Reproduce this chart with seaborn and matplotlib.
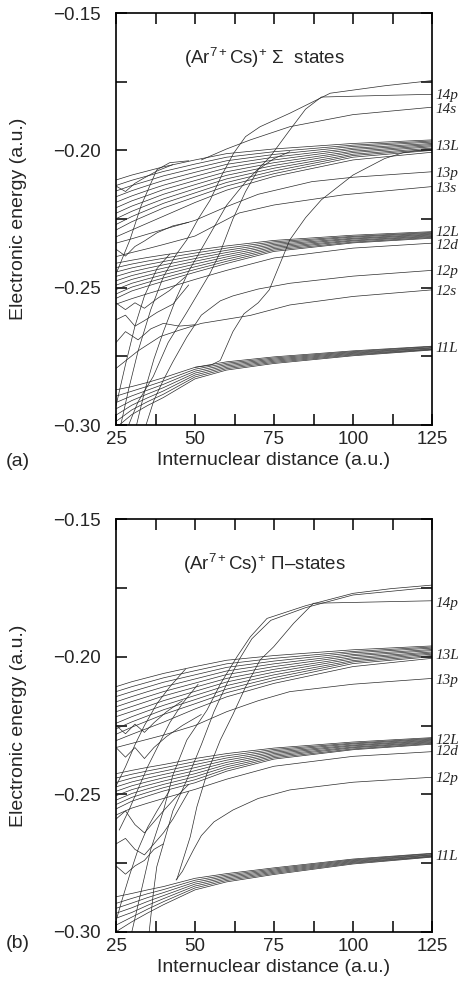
import matplotlib
matplotlib.use("Agg")
import matplotlib.pyplot as plt
import matplotlib.transforms as mtransforms
from matplotlib.ticker import MultipleLocator, FuncFormatter
import numpy as np
import pandas as pd
import seaborn as sns

# ---------------- data ----------------
R_GRID = [25, 30, 35, 40, 50, 60, 75, 100, 125]

# ---- panel (a): Sigma states ----
A_11L = [
    [-0.2872, -0.2860, -0.2845, -0.2828, -0.2790, -0.2770, -0.2752, -0.2730, -0.2713],
    [-0.2895, -0.2877, -0.2859, -0.2840, -0.2797, -0.2775, -0.2756, -0.2733, -0.2715],
    [-0.2918, -0.2894, -0.2873, -0.2852, -0.2804, -0.2780, -0.2760, -0.2736, -0.2718],
    [-0.2941, -0.2911, -0.2887, -0.2864, -0.2811, -0.2785, -0.2764, -0.2739, -0.2720],
    [-0.2964, -0.2928, -0.2901, -0.2876, -0.2818, -0.2790, -0.2768, -0.2742, -0.2723],
    [-0.2987, -0.2945, -0.2915, -0.2888, -0.2825, -0.2795, -0.2772, -0.2745, -0.2725],
    [-0.3010, -0.2962, -0.2929, -0.2900, -0.2832, -0.2800, -0.2776, -0.2748, -0.2727],
]
A_12L = [
    [-0.2411, -0.2400, -0.2390, -0.2381, -0.2364, -0.2348, -0.2328, -0.2309, -0.2296],
    [-0.2427, -0.2414, -0.2403, -0.2393, -0.2374, -0.2356, -0.2333, -0.2313, -0.2299],
    [-0.2443, -0.2428, -0.2416, -0.2405, -0.2384, -0.2364, -0.2338, -0.2316, -0.2302],
    [-0.2459, -0.2442, -0.2429, -0.2417, -0.2394, -0.2372, -0.2343, -0.2320, -0.2305],
    [-0.2475, -0.2456, -0.2442, -0.2429, -0.2404, -0.2380, -0.2348, -0.2323, -0.2308],
    [-0.2491, -0.2470, -0.2455, -0.2441, -0.2414, -0.2388, -0.2353, -0.2327, -0.2311],
    [-0.2507, -0.2484, -0.2468, -0.2453, -0.2424, -0.2396, -0.2358, -0.2330, -0.2314],
    [-0.2523, -0.2498, -0.2481, -0.2465, -0.2434, -0.2404, -0.2363, -0.2334, -0.2317],
    [-0.2539, -0.2512, -0.2494, -0.2477, -0.2444, -0.2412, -0.2368, -0.2337, -0.2320],
]
A_12D = [-0.2560, -0.2540, -0.2522, -0.2505, -0.2470, -0.2437, -0.2392, -0.2356, -0.2338]
A_13L = [
    [-0.2108, -0.2090, -0.2075, -0.2060, -0.2035, -0.2012, -0.1995, -0.1975, -0.1962],
    [-0.2128, -0.2109, -0.2093, -0.2077, -0.2050, -0.2025, -0.2005, -0.1981, -0.1966],
    [-0.2148, -0.2128, -0.2111, -0.2093, -0.2065, -0.2038, -0.2015, -0.1986, -0.1970],
    [-0.2169, -0.2147, -0.2128, -0.2110, -0.2080, -0.2051, -0.2025, -0.1992, -0.1975],
    [-0.2189, -0.2166, -0.2146, -0.2127, -0.2095, -0.2064, -0.2035, -0.1997, -0.1979],
    [-0.2209, -0.2184, -0.2164, -0.2143, -0.2110, -0.2078, -0.2045, -0.2003, -0.1983],
    [-0.2229, -0.2203, -0.2182, -0.2160, -0.2125, -0.2091, -0.2055, -0.2008, -0.1987],
    [-0.2249, -0.2222, -0.2199, -0.2177, -0.2140, -0.2104, -0.2065, -0.2014, -0.1992],
    [-0.2270, -0.2241, -0.2217, -0.2193, -0.2155, -0.2117, -0.2075, -0.2019, -0.1996],
    [-0.2290, -0.2260, -0.2235, -0.2210, -0.2170, -0.2130, -0.2085, -0.2025, -0.2000],
]
A_13D = [-0.2315, -0.2290, -0.2265, -0.2240, -0.2190, -0.2145, -0.2095, -0.2035, -0.2007]

# curves sampled at their own distances: (R list, E list)
A_13P_R = [25, 30, 35, 40, 50, 60, 70, 87, 100, 125]
A_13P_E = [-0.2338, -0.2322, -0.2305, -0.2288, -0.2255, -0.2205, -0.2160, -0.2114, -0.2098, -0.2078]
A_13S_R = [25, 30, 35, 40, 50, 58, 64, 75, 97, 125]
A_13S_E = [-0.2387, -0.2372, -0.2358, -0.2343, -0.2312, -0.2264, -0.2228, -0.2199, -0.2162, -0.2132]
A_12P_R = [34.5, 37, 40, 43, 47.4, 52, 58, 62, 70, 80, 100, 125]
A_12P_E = [-0.3000, -0.2910, -0.2836, -0.2770, -0.2680, -0.2600, -0.2548, -0.2530, -0.2505, -0.2484, -0.2458, -0.2437]
A_12S_R = [25, 32, 39, 45, 52, 60, 67.5, 80, 100, 125]
A_12S_E = [-0.2794, -0.2730, -0.2678, -0.2655, -0.2630, -0.2615, -0.2601, -0.2563, -0.2532, -0.2508]
A_14S_R = [52, 56, 60, 67.5, 80, 100, 125]
A_14S_E = [-0.2035, -0.2015, -0.1995, -0.1962, -0.1914, -0.1870, -0.1843]
A_TOP_R = [26.5, 29, 32, 36, 40, 44, 47.4, 51, 54.8, 58.5, 62.2, 66, 70.6, 80, 92.8, 110, 125]
A_TOP_E = [-0.3000, -0.2870, -0.2730, -0.2580, -0.2460, -0.2380, -0.2326, -0.2250, -0.2181, -0.2090,
           -0.2011, -0.1950, -0.1914, -0.1865, -0.1792, -0.1765, -0.1746]
A_14P_R = [31.5, 34, 37, 40, 44, 48, 52, 56, 60, 66, 73.8, 80, 85, 90, 110, 125]
A_14P_E = [-0.3000, -0.2880, -0.2760, -0.2660, -0.2540, -0.2440, -0.2360, -0.2280, -0.2200, -0.2115,
           -0.2023, -0.1926, -0.1850, -0.1806, -0.1800, -0.1796]
A_D1_R = [50, 55, 58, 62, 65.5, 70, 73.5, 77, 80, 85, 90, 100, 110, 116, 125]
A_D1_E = [-0.2790, -0.2782, -0.2765, -0.2660, -0.2595, -0.2555, -0.2508, -0.2410, -0.2326, -0.2245,
          -0.2180, -0.2090, -0.2030, -0.2008, -0.1995]
A_D3_R = [29, 32, 36.8, 41.5, 47.4, 54.8, 58, 62, 66, 70, 75, 80]
A_D3_E = [-0.3000, -0.2915, -0.2823, -0.2700, -0.2590, -0.2447, -0.2370, -0.2250, -0.2150, -0.2070, -0.2030, -0.2005]
A_D4_R = [25, 29.4, 33, 37.9, 42, 48]
A_D4_E = [-0.2450, -0.2326, -0.2200, -0.2071, -0.2045, -0.2038]
A_D5_R = [25, 28, 31, 34, 38, 42]
A_D5_E = [-0.2930, -0.2780, -0.2640, -0.2530, -0.2430, -0.2378]
A_W1_R = [25, 28, 31, 34, 38, 42, 47]
A_W1_E = [-0.2556, -0.2580, -0.2555, -0.2575, -0.2540, -0.2510, -0.2460]
A_W2_R = [25, 28, 31, 34, 38, 43, 48]
A_W2_E = [-0.2617, -0.2600, -0.2640, -0.2620, -0.2590, -0.2560, -0.2490]
A_W3_R = [25, 28, 32, 36, 40, 45, 50]
A_W3_E = [-0.2700, -0.2660, -0.2690, -0.2650, -0.2630, -0.2640, -0.2635]
A_W4_R = [25, 28, 31, 34, 38, 43, 48]
A_W4_E = [-0.2360, -0.2385, -0.2350, -0.2330, -0.2300, -0.2275, -0.2262]
A_W5_R = [25, 28, 31, 34, 38, 43]
A_W5_E = [-0.2130, -0.2150, -0.2120, -0.2100, -0.2075, -0.2052]

A_LABELS = ["14p", "14s", "13L", "13p", "13s", "12L", "12d", "12p", "12s", "11L"]
A_LABEL_E = [-0.1800, -0.1850, -0.1985, -0.2085, -0.2140, -0.2300, -0.2345, -0.2440, -0.2515, -0.2720]

# ---- panel (b): Pi states ----
B_11L = [
    [-0.2872, -0.2860, -0.2847, -0.2835, -0.2805, -0.2788, -0.2767, -0.2735, -0.2714],
    [-0.2896, -0.2878, -0.2861, -0.2846, -0.2812, -0.2793, -0.2771, -0.2738, -0.2716],
    [-0.2914, -0.2895, -0.2875, -0.2857, -0.2819, -0.2798, -0.2775, -0.2741, -0.2719],
    [-0.2932, -0.2912, -0.2889, -0.2868, -0.2826, -0.2803, -0.2779, -0.2744, -0.2721],
    [-0.2950, -0.2929, -0.2903, -0.2879, -0.2833, -0.2808, -0.2783, -0.2747, -0.2724],
    [-0.2975, -0.2946, -0.2917, -0.2890, -0.2840, -0.2813, -0.2787, -0.2750, -0.2726],
    [-0.2999, -0.2963, -0.2931, -0.2901, -0.2847, -0.2818, -0.2791, -0.2753, -0.2728],
]
B_12L = [
    [-0.2425, -0.2413, -0.2402, -0.2392, -0.2370, -0.2352, -0.2332, -0.2310, -0.2294],
    [-0.2441, -0.2427, -0.2415, -0.2404, -0.2381, -0.2360, -0.2337, -0.2314, -0.2297],
    [-0.2457, -0.2441, -0.2428, -0.2416, -0.2392, -0.2368, -0.2342, -0.2317, -0.2300],
    [-0.2473, -0.2455, -0.2441, -0.2428, -0.2403, -0.2376, -0.2347, -0.2321, -0.2303],
    [-0.2489, -0.2469, -0.2454, -0.2440, -0.2414, -0.2384, -0.2352, -0.2324, -0.2306],
    [-0.2505, -0.2483, -0.2467, -0.2452, -0.2425, -0.2392, -0.2357, -0.2328, -0.2309],
    [-0.2521, -0.2497, -0.2480, -0.2464, -0.2436, -0.2400, -0.2362, -0.2331, -0.2312],
    [-0.2537, -0.2511, -0.2493, -0.2476, -0.2447, -0.2408, -0.2367, -0.2335, -0.2315],
    [-0.2553, -0.2525, -0.2506, -0.2488, -0.2458, -0.2416, -0.2372, -0.2338, -0.2318],
]
B_12D = [-0.2575, -0.2550, -0.2532, -0.2515, -0.2482, -0.2445, -0.2398, -0.2362, -0.2345]
B_13L = [
    [-0.2109, -0.2091, -0.2076, -0.2061, -0.2036, -0.2013, -0.1996, -0.1975, -0.1961],
    [-0.2127, -0.2109, -0.2093, -0.2077, -0.2051, -0.2026, -0.2006, -0.1981, -0.1965],
    [-0.2145, -0.2127, -0.2110, -0.2093, -0.2066, -0.2039, -0.2016, -0.1986, -0.1969],
    [-0.2164, -0.2145, -0.2127, -0.2110, -0.2081, -0.2052, -0.2026, -0.1992, -0.1974],
    [-0.2182, -0.2163, -0.2145, -0.2127, -0.2096, -0.2065, -0.2036, -0.1997, -0.1978],
    [-0.2200, -0.2181, -0.2162, -0.2143, -0.2111, -0.2079, -0.2046, -0.2003, -0.1983],
    [-0.2218, -0.2199, -0.2180, -0.2160, -0.2126, -0.2092, -0.2056, -0.2008, -0.1987],
    [-0.2242, -0.2218, -0.2197, -0.2177, -0.2141, -0.2105, -0.2066, -0.2014, -0.1991],
    [-0.2262, -0.2237, -0.2215, -0.2193, -0.2156, -0.2118, -0.2076, -0.2019, -0.1996],
    [-0.2282, -0.2256, -0.2233, -0.2210, -0.2171, -0.2131, -0.2086, -0.2025, -0.2000],
]
B_13D = [-0.2305, -0.2282, -0.2260, -0.2238, -0.2190, -0.2146, -0.2097, -0.2036, -0.2006]

B_13P_R = [25, 30, 35, 40, 50, 60, 70, 80, 100, 125]
B_13P_E = [-0.2330, -0.2315, -0.2300, -0.2285, -0.2250, -0.2200, -0.2160, -0.2127, -0.2100, -0.2079]
B_14P_R = [44.2, 48.5, 50.6, 53.8, 58, 62, 66, 70.6, 74.9, 81.2, 87.5, 100, 125]
B_14P_E = [-0.2811, -0.2654, -0.2545, -0.2424, -0.2303, -0.2210, -0.2110, -0.2012, -0.1964, -0.1879,
           -0.1806, -0.1803, -0.1797]
B_T1_R = [30, 33, 36, 40, 43, 47.4, 53.8, 58, 63.3, 67.5, 72.8, 85, 100, 112, 125]
B_T1_E = [-0.3000, -0.2850, -0.2700, -0.2560, -0.2430, -0.2303, -0.2194, -0.2100, -0.2000, -0.1928,
          -0.1861, -0.1815, -0.1770, -0.1753, -0.1740]
B_T2_R = [35.5, 36.8, 37.9, 40, 43, 47.4, 52, 56, 60, 64, 68, 74, 85, 100, 125]
B_T2_E = [-0.3000, -0.2860, -0.2763, -0.2680, -0.2560, -0.2448, -0.2320, -0.2200, -0.2100, -0.2010,
          -0.1935, -0.1868, -0.1822, -0.1776, -0.1748]
B_12P_R = [44, 46, 49.5, 52, 56, 62, 70, 80, 100, 125]
B_12P_E = [-0.2811, -0.2780, -0.2702, -0.2650, -0.2600, -0.2557, -0.2515, -0.2484, -0.2456, -0.2438]
B_D4_R = [25, 28, 31, 34, 38, 42, 47]
B_D4_E = [-0.2470, -0.2400, -0.2320, -0.2250, -0.2170, -0.2110, -0.2045]
B_D5_R = [26, 29, 32, 35, 38.5, 42, 46, 51]
B_D5_E = [-0.2630, -0.2560, -0.2480, -0.2400, -0.2320, -0.2240, -0.2170, -0.2100]
B_D6_R = [25, 27, 29.4, 32, 35, 38, 42]
B_D6_E = [-0.2960, -0.2880, -0.2790, -0.2700, -0.2620, -0.2560, -0.2485]
B_W1_R = [25, 28, 31, 34, 37, 41, 46]
B_W1_E = [-0.2250, -0.2280, -0.2245, -0.2275, -0.2240, -0.2200, -0.2160]
B_W2_R = [25, 28, 31, 34, 37, 41, 46, 52]
B_W2_E = [-0.2330, -0.2365, -0.2330, -0.2370, -0.2330, -0.2290, -0.2250, -0.2210]
B_W3_R = [25, 28, 31, 34, 37, 40, 44, 48]
B_W3_E = [-0.2590, -0.2560, -0.2610, -0.2640, -0.2600, -0.2560, -0.2510, -0.2464]
B_W4_R = [25, 28, 31, 34, 37, 40, 43, 48]
B_W4_E = [-0.2680, -0.2660, -0.2700, -0.2720, -0.2680, -0.2640, -0.2590, -0.2490]
B_W5_R = [25, 28, 31, 34, 37, 40]
B_W5_E = [-0.2760, -0.2790, -0.2760, -0.2740, -0.2700, -0.2680]

B_LABELS = ["14p", "13L", "13p", "12L", "12d", "12p", "11L"]
B_LABEL_E = [-0.1806, -0.1994, -0.2085, -0.2303, -0.2345, -0.2442, -0.2725]

X_TICKS = [25, 50, 75, 100, 125]
Y_TICKS = [-0.30, -0.25, -0.20, -0.15]

# ---------------- build long tables ----------------
def build(grid_groups, free_curves):
    rows = []
    cid = 0
    for group in grid_groups:
        for line in group:
            for r, e in zip(R_GRID, line):
                rows.append((cid, r, e))
            cid += 1
    for rr, ee in free_curves:
        for r, e in zip(rr, ee):
            rows.append((cid, r, e))
        cid += 1
    return pd.DataFrame(rows, columns=["curve", "R", "E"])


df_a = build([A_11L, A_12L, [A_12D], A_13L, [A_13D]],
             [(A_13P_R, A_13P_E), (A_13S_R, A_13S_E), (A_12P_R, A_12P_E), (A_12S_R, A_12S_E),
              (A_14S_R, A_14S_E), (A_TOP_R, A_TOP_E), (A_14P_R, A_14P_E), (A_D1_R, A_D1_E),
              (A_D3_R, A_D3_E), (A_D4_R, A_D4_E), (A_D5_R, A_D5_E), (A_W1_R, A_W1_E),
              (A_W2_R, A_W2_E), (A_W3_R, A_W3_E), (A_W4_R, A_W4_E), (A_W5_R, A_W5_E)])
df_b = build([B_11L, B_12L, [B_12D], B_13L, [B_13D]],
             [(B_13P_R, B_13P_E), (B_14P_R, B_14P_E), (B_T1_R, B_T1_E), (B_T2_R, B_T2_E),
              (B_12P_R, B_12P_E), (B_D4_R, B_D4_E), (B_D5_R, B_D5_E), (B_D6_R, B_D6_E),
              (B_W1_R, B_W1_E), (B_W2_R, B_W2_E), (B_W3_R, B_W3_E), (B_W4_R, B_W4_E),
              (B_W5_R, B_W5_E)])

# ---------------- style ----------------
sns.set_theme(style="ticks")
plt.rcParams["font.family"] = ["Liberation Sans", "DejaVu Sans"]
plt.rcParams["mathtext.fontset"] = "custom"
plt.rcParams["mathtext.rm"] = "Liberation Sans"
plt.rcParams["mathtext.it"] = "Liberation Sans:italic"
plt.rcParams["axes.unicode_minus"] = True

fig = plt.figure(figsize=(4.61, 9.92), dpi=100)
W, H = 461.0, 992.0
ax_a = fig.add_axes([116 / W, 1 - 425 / H, 316 / W, 412 / H])
ax_b = fig.add_axes([116 / W, 1 - 932 / H, 316 / W, 413 / H])

FS = 13.5
minus_fmt = FuncFormatter(lambda v, p: f"{v:.2f}".replace("-", "\u2212"))


def style_axes(ax, df, labels, label_e, title, tag, tag_y):
    sns.lineplot(data=df, x="R", y="E", units="curve", estimator=None, sort=False,
                 color="#2b2b2b", linewidth=0.5, legend=False, ax=ax)
    ax.set_xlim(25, 125)
    ax.set_ylim(-0.30, -0.15)
    ax.set_xticks(X_TICKS)
    ax.set_yticks(Y_TICKS)
    ax.xaxis.set_minor_locator(MultipleLocator(12.5))
    ax.yaxis.set_minor_locator(MultipleLocator(0.025))
    ax.yaxis.set_major_formatter(minus_fmt)
    ax.tick_params(which="both", direction="in", top=True, right=True,
                   length=8, width=1.1, color="black", labelsize=FS)
    ax.tick_params(axis="x", which="major", pad=4)
    ax.tick_params(axis="y", which="major", pad=11)
    for s in ax.spines.values():
        s.set_linewidth(1.2)
        s.set_color("black")
    ax.set_xlabel("Internuclear distance (a.u.)", fontsize=FS + 0.5, va="center")
    ax.xaxis.set_label_coords(0.5, -0.087)
    ax.set_ylabel("Electronic energy (a.u.)", fontsize=FS + 0.5, va="center")
    ax.yaxis.set_label_coords(-0.31, 0.5)
    ax.text(72, -0.1663, title, ha="center", va="center", fontsize=FS)
    trans = mtransforms.blended_transform_factory(ax.transAxes, ax.transData)
    for lab, e in zip(labels, label_e):
        ax.text(1.012, e, lab, transform=trans, ha="left", va="center",
                fontsize=11, family="Liberation Serif", style="italic", clip_on=False)
    fig.text(18 / W, tag_y, tag, ha="center", va="center", fontsize=FS + 0.5)


style_axes(ax_a, df_a, A_LABELS, A_LABEL_E, "(Ar$^{7+}$Cs)$^{+}$ $\\Sigma$  states", "(a)", 1 - 462 / H)
style_axes(ax_b, df_b, B_LABELS, B_LABEL_E, "(Ar$^{7+}$Cs)$^{+}$ $\\Pi$\u2013states", "(b)", 1 - 943 / H)

fig.savefig("out.png", dpi=100, facecolor="white")
